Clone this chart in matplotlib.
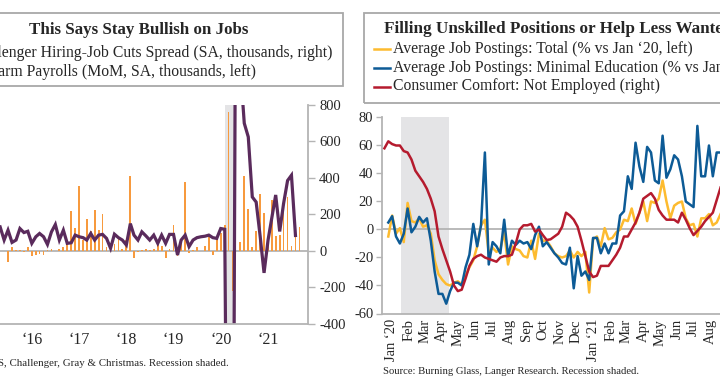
import numpy as np
import pandas as pd
import matplotlib
matplotlib.use("Agg")
import matplotlib.pyplot as plt
from matplotlib.patches import Rectangle
from matplotlib.lines import Line2D

plt.rcParams['font.family'] = ['Liberation Serif', 'DejaVu Serif']
plt.rcParams['axes.unicode_minus'] = False

# ---- left panel data (monthly) ----
challenger_start = "2015-05-01"
challenger = [132, 60, 114, 47, 60, 123, 101, 108, 42, 78, 96, 78, 36, 105, 145, 60,
              114, 42, 45, 87, 78, 73, 60, 96, 60, 87, 91, 69, 15, 92, 73, 60, 33, 150,
              87, 60, 105, 83, 60, 87, 42, 87, 42, 91, 91, -22, 60, 87, 24, 60, 73, 78,
              81, 87, 73, 69, 123, 119,
              -2500, -2500, 2500, 1000, 700, 625, 296, 268, 80, -120, 60, 190, 307, 107,
              260, 386, 415, 85]
payrolls_start = "2015-07-01"
payrolls = [-58, 23, 5, 5, -5, 23, -30, -20, -15, -20, 5, 10, 0, 10, 20, 40, 217, 127,
            357, 60, 175, 110, 227, 115, 204, 20, 10, 40, 70, 10, 60, 412, -40, -5, 5, 10,
            5, 10, 40, 30, -40, 10, 140, -30, 65, 380, -10, 5, 20, 0, 30, 90, -20, 80,
            100, 142, 761, -220, 0, 50, 410, 228, 20, 110, 315, 210, 40, 280, 80, 85,
            240, 295, 30, 90, 130]
year_labels = ["\u201816", "\u201817", "\u201818", "\u201819", "\u201820", "\u201821"]
years = [2016, 2017, 2018, 2019, 2020, 2021]

# ---- right panel data (weekly) ----
week_start = "2020-01-02"
red = [58, 63, 61, 60, 60, 56, 55, 50, 42, 38, 34, 29, 22, 13, -5, -14, -22, -30, -40,
       -44, -43, -35, -26, -21, -19, -18, -20, -21, -22, -23, -20, -19, -19, -18, -10, 0,
       3, 3, 4, -1.5, 0, -4, -7.5, -7, -5, -3, 2, 12, 10, 7, 2, -8, -19, -30, -34, -33,
       -26, -26, -26, -22, -18, -13, -5, -5, 0, 5, 12, 22, 24, 26, 22, 14, 10, 7, 7, 7,
       5, 12, 7, 1, -4, -1, 2, 6, 9, 12, 21, 30]
blue = [np.nan, 5, 9.5, -5, -10, -3, 15, -2, 2, 9, 5, 8, -8, -30, -46, -46, -53, -44,
        -38, -38, -40, -27, -18, 4, -12, 3, 55, -25, -9, -12, -17, 7, -19, -8, -11, -8,
        -10, -9, -14, -4, 2, -12, -9, -13, -17, -20, -24, -25, -13, -42, -19, -33, -30,
        -36, -6, -6, -17, -10, -17, -10, -10, 10, 13, 38, 29, 62, 45, 34, 59, 55, 35, 33,
        67, 37, 43, 53, 50, 38, 20, 18, 16, 74, 38, 38, 60, 38, 55, 55]
yellow = [np.nan, -5, 10, -3, 1, -9, 19, 6, 5, 8, 2, 3, -3, -22, -32, -36, -39, -40,
          -38, -37, -39, -33, -27, -22, -12, 3, 7, -17, -13, -16, -14, -2, -25, -12, -14,
          -15, -19, -20, -8, -21, -3, -8, -8, -12, -17, -19, -20, -19, -15, -20, -16, -19,
          -16, -45, -7, -5, -12, 1, -7, -6, -2, 0, 7, 6, 15, 4, 12, 20, 6, 20, 19, 22, 35,
          20, 8, 17, 19, 20, 8, 3, 4, -5, 8, 8, 11, 3, 5, 11]
month_labels = ["Jan \u201820", "Feb", "Mar", "Apr", "May", "Jun", "Jul", "Aug", "Sep",
                "Oct", "Nov", "Dec", "Jan \u201821", "Feb", "Mar", "Apr", "May", "Jun",
                "Jul", "Aug"]

GRAY = "#b4b4b4"
TXT = "#262626"
PURPLE = "#5a2b5c"
ORANGE = "#f79a3e"
YEL = "#fdbb2f"
BLU = "#0d5b96"
RED = "#b51b2e"

fig = plt.figure(figsize=(7.2, 3.8), dpi=100)

# ---------------- left panel ----------------
ax1 = fig.add_axes([0.0, 0.1474, 0.4278, 0.5763])
ax1r = ax1.twinx()
pay_x = pd.date_range(payrolls_start, periods=len(payrolls), freq="MS")
ch_x = pd.date_range(challenger_start, periods=len(challenger), freq="MS")

ax1.axvspan(pd.Timestamp("2020-02-01"), pd.Timestamp("2020-04-30"), color="#e4e4e6", lw=0, zorder=0)
ax1.axhline(0, color=GRAY, lw=1.3, zorder=1)
ax1.bar(pay_x, payrolls, width=14, color=ORANGE, zorder=2)
ax1r.plot(ch_x, challenger, color=PURPLE, lw=2.3, solid_joinstyle="miter")

for a in (ax1, ax1r):
    a.set_ylim(-400, 800)
    a.set_xlim(pd.Timestamp("2015-04-30"), pd.Timestamp("2021-11-06"))
    for s in a.spines.values():
        s.set_visible(False)
ax1.set_yticks([])
ax1r.spines["right"].set_visible(True)
ax1r.spines["right"].set_color(GRAY)
ax1r.spines["right"].set_linewidth(1.3)
ax1r.spines["bottom"].set_visible(True)
ax1r.spines["bottom"].set_color(GRAY)
ax1r.spines["bottom"].set_linewidth(1.3)
ax1r.set_yticks(range(-400, 801, 200))
ax1r.set_yticklabels([str(v) for v in range(-400, 801, 200)])
ax1r.tick_params(axis="y", colors=GRAY, labelcolor=TXT, labelsize=10.5, length=5, width=1, pad=3)
ax1.set_xticks([pd.Timestamp(f"{y}-01-01") for y in years])
ax1.set_xticklabels(year_labels)
ax1.tick_params(axis="x", length=0, labelsize=11.5, labelcolor=TXT, pad=6)
ax1r.tick_params(axis="x", length=0, labelbottom=False)

# ---------------- right panel ----------------
ax2 = fig.add_axes([0.5301, 0.175, 0.4699, 0.5158])
ax2r = ax2.twinx()
wk = pd.date_range(week_start, periods=len(red), freq="7D")
ax2.axvspan(pd.Timestamp("2020-02-01"), pd.Timestamp("2020-04-28"), color="#e4e4e6", lw=0, zorder=0)
ax2.axhline(0, color=GRAY, lw=1.3, zorder=1)
ax2.plot(wk, yellow, color=YEL, lw=1.8, zorder=2)
ax2.plot(wk, blue, color=BLU, lw=1.8, zorder=3)
ax2r.plot(wk, red, color=RED, lw=1.8)
for a in (ax2, ax2r):
    a.set_ylim(-60, 80)
    a.set_xlim(pd.Timestamp("2019-12-28"), pd.Timestamp("2021-09-01"))
    for s in a.spines.values():
        s.set_visible(False)
ax2r.set_yticks([])
for side in ("left", "bottom"):
    ax2.spines[side].set_visible(True)
    ax2.spines[side].set_color(GRAY)
    ax2.spines[side].set_linewidth(1.3)
ax2.set_yticks(range(-60, 81, 20))
ax2.set_yticklabels([str(v) for v in range(-60, 81, 20)])
ax2.tick_params(axis="y", colors=GRAY, labelcolor=TXT, labelsize=10.5, length=4, width=1, pad=2)
mid = pd.date_range("2020-01-01", periods=len(month_labels), freq="MS") + pd.Timedelta(days=14)
ax2.set_xticks(mid)
ax2.set_xticklabels(month_labels, rotation=90)
ax2.tick_params(axis="x", length=0, labelsize=10.5, labelcolor=TXT, pad=4)

# ---------------- title boxes ----------------
fig.patches.append(Rectangle((-0.01, 1 - 86 / 380), 343 / 720 + 0.01, (86 - 13.3) / 380,
                             transform=fig.transFigure, fill=False, ec="#a8a8a8", lw=1.3))
fig.patches.append(Rectangle((364 / 720, 1 - 103 / 380), 0.6, (103 - 12.7) / 380,
                             transform=fig.transFigure, fill=False, ec="#a8a8a8", lw=1.3))

fig.text(139 / 720, 1 - 30.5 / 380, "This Says Stay Bullish on Jobs", ha="center", va="center",
         fontsize=12.2, fontweight="bold", color=TXT)
fig.text(332 / 720, 1 - 53 / 380, "Challenger Hiring-Job Cuts Spread (SA, thousands, right)",
         ha="right", va="center", fontsize=11.3, color=TXT)
fig.text(256 / 720, 1 - 71.5 / 380, "Nonfarm Payrolls (MoM, SA, thousands, left)",
         ha="right", va="center", fontsize=11.3, color=TXT)

fig.text(384 / 720, 1 - 29 / 380, "Filling Unskilled Positions or Help Less Wanted?",
         ha="left", va="center", fontsize=12.35, fontweight="bold", color=TXT)
leg = [("Average Job Postings: Total (% vs Jan \u201820, left)", YEL, 49),
       ("Average Job Postings: Minimal Education (% vs Jan \u201820, left)", BLU, 68),
       ("Consumer Comfort: Not Employed (right)", RED, 86.5)]
for label, c, yy in leg:
    fig.lines.append(Line2D([374 / 720, 390 / 720], [1 - yy / 380, 1 - yy / 380],
                            transform=fig.transFigure, color=c, lw=1.8))
    fig.text(393 / 720, 1 - yy / 380, label, ha="left", va="center", fontsize=11.35, color=TXT)

fig.text(229 / 720, 1 - 363 / 380, "Source: BLS, Challenger, Gray & Christmas. Recession shaded.",
         ha="right", va="center", fontsize=7.8, color=TXT)
fig.text(383 / 720, 1 - 371.5 / 380, "Source: Burning Glass, Langer Research. Recession shaded.",
         ha="left", va="center", fontsize=7.7, color=TXT)

fig.savefig("out.png", dpi=100)
